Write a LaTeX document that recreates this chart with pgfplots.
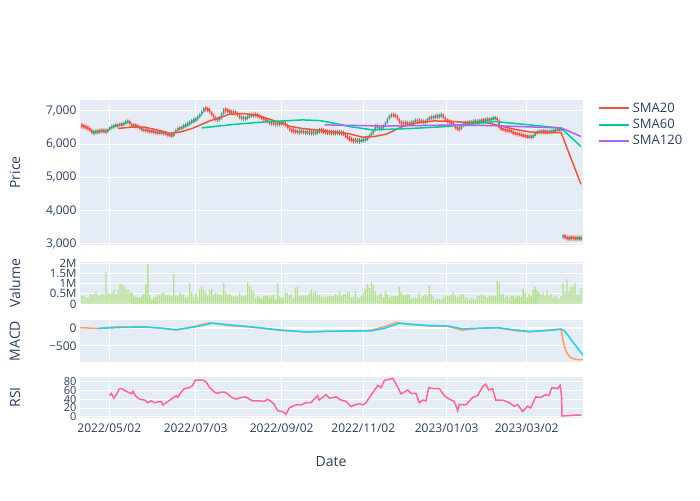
\documentclass[border=0pt]{standalone}
\usepackage{fontspec}
\setmainfont{Open Sans}
\usepackage{pgfplots}
\usepackage{pgfplotstable}
\pgfplotsset{compat=1.18}
\definecolor{bgc}{HTML}{E5ECF6}
\definecolor{txt}{HTML}{2A3F5F}
\definecolor{inc}{HTML}{3D9970}
\definecolor{dec}{HTML}{FF4136}
\definecolor{s20}{HTML}{EF553B}
\definecolor{s60}{HTML}{00CC96}
\definecolor{s120}{HTML}{AB63FA}
\definecolor{volc}{HTML}{B6E28E}
\definecolor{macdc}{HTML}{FFA15A}
\definecolor{sigc}{HTML}{19D3F3}
\definecolor{rsic}{HTML}{FF6692}

\pgfplotstableread{
o c v
6560 6550 0.43
6550 6520 0.40
6520 6500 0.30
6500 6470 0.33
6470 6420 0.50
6420 6340 0.43
6340 6360 0.50
6360 6380 0.63
6380 6370 0.43
6370 6410 0.43
6410 6390 0.52
6390 6400 0.45
6400 6380 1.55
6380 6440 0.55
6440 6500 0.50
6500 6530 0.55
6530 6550 0.70
6550 6570 0.50
6570 6560 0.70
6560 6600 1.00
6600 6580 0.97
6580 6640 0.88
6640 6660 0.72
6660 6690 0.72
6690 6600 0.58
6600 6560 0.55
6560 6570 0.42
6570 6540 0.35
6540 6520 0.33
6520 6470 0.30
6470 6420 0.40
6420 6440 0.50
6440 6410 0.97
6410 6400 2.00
6400 6380 0.43
6380 6390 0.22
6390 6360 0.33
6360 6350 0.35
6350 6340 0.47
6340 6360 0.43
6360 6330 0.52
6330 6340 0.58
6340 6300 0.47
6300 6260 0.43
6260 6280 0.47
6280 6240 0.40
6240 6360 1.50
6360 6420 0.43
6420 6480 0.43
6480 6470 0.55
6470 6520 0.47
6520 6550 0.47
6550 6580 0.33
6580 6620 0.35
6620 6650 1.05
6650 6700 0.58
6700 6720 0.33
6720 6760 0.55
6760 6820 0.33
6820 6900 0.72
6900 6980 0.85
6980 7080 0.75
7080 7050 0.58
7050 7040 0.42
7040 6960 0.68
6960 6880 0.75
6880 6800 0.47
6800 6730 0.55
6730 6760 0.47
6760 6780 0.47
6780 6920 0.45
6920 7050 1.05
7050 7020 0.58
7020 7000 0.47
7000 6970 0.50
6970 6950 0.42
6950 6960 0.38
6960 6940 0.42
6940 6860 0.38
6860 6780 0.55
6780 6800 0.42
6800 6770 0.38
6770 6780 0.45
6780 6830 1.08
6830 6880 0.88
6880 6860 0.72
6860 6890 0.58
6890 6880 0.30
6880 6850 0.38
6850 6820 0.33
6820 6780 0.25
6780 6750 0.42
6750 6720 0.42
6720 6680 0.42
6680 6620 0.33
6620 6640 0.42
6640 6610 0.47
6610 6620 0.22
6620 6600 1.05
6600 6630 0.38
6630 6640 0.30
6640 6645 0.33
6645 6560 0.55
6560 6500 0.55
6500 6420 0.43
6420 6400 0.50
6400 6390 0.30
6390 6380 0.80
6380 6360 0.85
6360 6370 0.38
6370 6390 0.43
6390 6350 0.42
6350 6355 0.43
6355 6370 0.42
6370 6340 0.55
6340 6360 0.72
6360 6340 0.55
6340 6350 0.63
6350 6390 0.47
6390 6420 0.43
6420 6400 0.38
6400 6380 0.38
6380 6370 0.33
6370 6350 0.42
6350 6360 0.42
6360 6340 0.42
6340 6350 0.38
6350 6340 0.50
6340 6360 0.43
6360 6330 0.63
6330 6350 0.42
6350 6300 0.50
6300 6250 0.50
6250 6170 0.60
6170 6150 0.58
6150 6120 0.33
6120 6100 0.35
6100 6120 0.63
6120 6090 0.33
6090 6100 0.30
6100 6110 0.42
6110 6130 0.58
6130 6140 0.72
6140 6200 1.00
6200 6270 0.80
6270 6330 1.10
6330 6400 0.92
6420 6560 0.63
6580 6480 0.42
6480 6490 0.50
6490 6470 0.55
6470 6560 0.33
6560 6650 0.63
6650 6760 0.47
6760 6850 0.33
6850 6880 0.42
6880 6870 0.38
6870 6850 0.40
6850 6750 0.40
6750 6650 0.83
6650 6620 0.58
6620 6640 0.43
6640 6630 0.43
6630 6610 0.50
6610 6640 0.47
6640 6630 0.25
6630 6680 0.30
6680 6710 0.33
6710 6690 0.30
6690 6700 0.55
6700 6680 0.30
6680 6660 0.40
6660 6680 0.50
6680 6740 0.40
6740 6800 0.88
6800 6790 0.50
6790 6820 0.38
6820 6840 0.22
6840 6830 0.25
6830 6860 0.25
6860 6880 0.22
6880 6800 0.33
6800 6710 0.43
6710 6690 0.43
6690 6660 0.42
6660 6630 0.47
6630 6560 0.60
6560 6480 0.42
6480 6470 0.33
6470 6460 0.43
6460 6540 0.50
6540 6620 0.47
6620 6610 0.33
6610 6640 0.30
6640 6630 0.22
6630 6650 0.30
6650 6670 0.25
6670 6680 0.25
6680 6660 0.42
6660 6690 0.42
6690 6710 0.47
6710 6700 0.42
6700 6720 0.43
6720 6740 0.33
6740 6730 0.42
6730 6760 0.38
6760 6780 0.40
6780 6790 0.42
6790 6720 1.13
6720 6480 1.05
6480 6460 0.50
6460 6430 0.50
6430 6420 0.33
6420 6410 0.42
6410 6400 0.33
6400 6370 0.42
6370 6330 0.42
6330 6320 0.33
6320 6300 0.42
6300 6290 0.40
6290 6270 0.33
6270 6250 0.75
6250 6240 0.55
6240 6220 0.33
6220 6230 0.50
6230 6210 0.38
6210 6250 0.72
6250 6340 0.83
6340 6360 0.68
6360 6380 0.58
6380 6370 0.47
6370 6390 0.58
6390 6370 0.42
6370 6380 0.67
6380 6360 0.42
6360 6390 0.50
6390 6395 0.30
6395 6420 0.42
6420 6440 0.38
6440 6430 0.25
6430 6450 0.40
3200 3240 1.05
3240 3180 0.58
3180 3170 1.22
3170 3160 0.63
3160 3180 0.83
3180 3170 0.88
3170 3160 1.05
3160 3170 0.50
3170 3160 0.50
3160 3170 0.80
}\pdata

\pgfplotsset{
  panel/.style={
    scale only axis, width=503pt, xmin=-1, xmax=251,
    axis background/.style={fill=bgc},
    axis line style={draw=none},
    major tick length=0pt,
    xmajorgrids, ymajorgrids,
    grid style={white, line width=1pt},
    xtick={13.68,56.97,100.05,140.93,182.72,222.80},
    xticklabels={},
    tick label style={font=\fontsize{12}{14}\selectfont, text=txt},
    xticklabel style={yshift=-2pt},
    /pgf/number format/assume math mode=true,
    scaled y ticks=false,
    every axis y label/.style={at={(rel axis cs:0,0.5)}, xshift=-65pt, rotate=90, anchor=center,
      font=\fontsize{14}{16}\selectfont, text=txt},
  },
  pover/.style={at={(80pt,255pt)}, anchor=south west, scale only axis,
    width=503pt, height=145pt, xmin=-1, xmax=251, ymin=2960, ymax=7330, hide axis},
}

\begin{document}
\begin{tikzpicture}[x=1pt,y=1pt]
\useasboundingbox (0,0) rectangle (700,500);

% Price panel (frame, grid, ticks)
\begin{axis}[panel, at={(80pt,255pt)}, anchor=south west, height=145pt,
  ymin=2960, ymax=7330, ytick={3000,4000,5000,6000,7000},
  yticklabel style={/pgf/number format/.cd, 1000 sep={,}},
  ylabel={Price}]
\addplot[draw=none, forget plot] coordinates {(0,5000)};
\end{axis}

% candle wicks
\begin{axis}[pover, ybar stacked, bar width=0.6pt]
\addplot[draw=none, fill=none] table[x expr=\coordindex,
  y expr={0.5*(\thisrow{o}+\thisrow{c})-max(0.5*abs(\thisrow{c}-\thisrow{o}),40)-45}] {\pdata};
\addplot[draw=none, fill=inc] table[x expr=\coordindex,
  y expr={\thisrow{c}>=\thisrow{o} ? 2*max(0.5*abs(\thisrow{c}-\thisrow{o}),40)+90 : 0}] {\pdata};
\addplot[draw=none, fill=dec] table[x expr=\coordindex,
  y expr={\thisrow{c}<\thisrow{o} ? 2*max(0.5*abs(\thisrow{c}-\thisrow{o}),40)+90 : 0}] {\pdata};
\end{axis}

% candle bodies
\begin{axis}[pover, ybar stacked, bar width=1.5pt]
\addplot[draw=none, fill=none] table[x expr=\coordindex,
  y expr={0.5*(\thisrow{o}+\thisrow{c})-max(0.5*abs(\thisrow{c}-\thisrow{o}),40)}] {\pdata};
\addplot[draw=none, fill=inc] table[x expr=\coordindex,
  y expr={\thisrow{c}>=\thisrow{o} ? 2*max(0.5*abs(\thisrow{c}-\thisrow{o}),40) : 0}] {\pdata};
\addplot[draw=none, fill=dec] table[x expr=\coordindex,
  y expr={\thisrow{c}<\thisrow{o} ? 2*max(0.5*abs(\thisrow{c}-\thisrow{o}),40) : 0}] {\pdata};
\end{axis}

% SMAs + legend
\begin{axis}[pover,
  legend style={at={(1.03,0.99)}, anchor=north west, draw=none, fill=none,
    font=\fontsize{13}{15}\selectfont, text=txt, row sep=3.5pt, inner sep=0pt,
    nodes={inner ysep=1pt, inner xsep=2.5pt}},
  legend cell align=left,
  legend image code/.code={\draw[#1, line width=2pt] (0pt,0pt) -- (30pt,0pt);},
]
\addplot[s20, line width=1.5pt] coordinates {
(18,6470)(24,6510)(31.5,6510)(38,6420)(44,6330)(49,6360)(55.5,6480)(64,6700)
(74,6900)(81.5,6920)(89,6850)(96.5,6700)(104,6540)(110.5,6470)(119,6420)
(125.5,6370)(134,6310)(140.5,6210)(146.5,6230)(152.5,6300)(160.5,6530)
(169,6650)(176.5,6700)(186.5,6680)(194,6650)(201.5,6660)(209,6560)
(216.5,6450)(224,6370)(231.5,6340)(240,6350)(250,4790)};
\addlegendentry{SMA20}
\addplot[s60, line width=1.5pt] coordinates {
(60,6490)(77,6600)(94,6680)(110.5,6730)(119,6710)(125.5,6640)(134,6530)
(145.5,6430)(164.5,6470)(182.5,6530)(196.5,6620)(207,6680)(222.5,6590)
(240,6480)(250,5930)};
\addlegendentry{SMA60}
\addplot[s120, line width=1.5pt] coordinates {
(121.5,6580)(139,6560)(152.5,6545)(169,6560)(185.5,6575)(204,6560)
(224,6520)(240,6490)(250,6230)};
\addlegendentry{SMA120}
\end{axis}

% Volume panel
\begin{axis}[panel, at={(80pt,196pt)}, anchor=south west, height=42pt,
  ymin=0, ymax=2.08, ytick={0,0.5,1,1.5,2},
  yticklabels={0,0.5M,1M,1.5M,2M},
  yticklabel style={font=\fontsize{11.5}{13}\selectfont},
  ylabel={Valume}]
\addplot[ybar, bar width=1.3pt, bar shift=0pt, fill=volc, draw=none]
  table[x expr=\coordindex, y=v] {\pdata};
\end{axis}

% MACD panel
\begin{axis}[panel, at={(80pt,138pt)}, anchor=south west, height=42pt,
  ymin=-962, ymax=240, ytick={-500,0}, yticklabels={−500,0},
  extra y ticks={0}, extra y tick labels={},
  extra y tick style={grid style={white, line width=2pt}},
  ylabel={MACD}]
\addplot[macdc, line width=1.5pt] coordinates {
(-1,20)(8,0)(16.5,40)(29,50)(39,10)(47,-50)(56.5,60)(63.5,160)(69,120)
(74,80)(84,40)(100,-60)(112.5,-105)(124,-80)(141,-70)(145,-50)(151.5,50)
(157.5,170)(164,110)(174,70)(183,60)(190.5,-50)(199,0)(208,20)(216.5,-60)
(224,-100)(231.5,-60)(238.5,-20)(240,-15)(241,-350)(242,-580)(243,-710)
(244,-790)(245,-840)(246,-865)(247,-880)(248,-890)(249,-895)(251,-895)};
\addplot[sigc, line width=1.5pt] coordinates {
(8,0)(19,25)(31.5,40)(41.5,0)(47,-40)(56.5,40)(65.5,150)(74,100)(84,50)
(100,-50)(112.5,-100)(129,-80)(145,-70)(151.5,0)(159,145)(174,80)(183,70)
(190.5,-10)(208,20)(216.5,-40)(224,-90)(231.5,-70)(239.5,-30)(241,-45)
(242,-90)(243,-160)(244,-240)(245,-320)(246,-400)(247,-470)(248,-540)
(249,-620)(250,-700)(251,-770)};
\end{axis}

% RSI panel
\begin{axis}[panel, at={(80pt,82pt)}, anchor=south west, height=41pt,
  ymin=-2.5, ymax=90, ytick={0,20,40,60,80},
  yticklabel style={font=\fontsize{11}{12}\selectfont},
  xticklabels={2022/05/02,2022/07/03,2022/09/02,2022/11/02,2023/01/03,2023/03/02},
  ylabel={RSI}]
\addplot[rsic, line width=1.5pt] coordinates {
(13.8,48)(14.7,53)(16,42)(17.2,50)(18.8,64)(19.7,64)(21.3,60)(23,56)(24.7,52)
(25.5,58)(26.7,48)(28.8,40)(31.3,38)(33,32)(34.7,36)(36.3,32)(39.7,35)(40.5,27)
(42.2,32)(44.7,40)(47.2,48)(48,44)(49.7,56)(51.3,64)(53.8,66)(55.5,71)(56.7,83)
(60.5,83)(62.2,79)(63.8,67)(66.3,56)(68,53)(69.7,56)(71.3,56)(73,52)(74.7,45)
(77.2,40)(79.7,44)(82.2,45)(83.8,40)(85.5,36)(88.8,36)(91.3,35)(93,40)(94.7,35)
(96.3,28)(98,14)(100.5,12)(102.2,6)(103.8,20)(105.5,24)(108,28)(109.7,27)
(112.2,32)(114.7,32)(116.3,40)(118,48)(118.8,38)(122.2,50)(124,42)(127.3,45)
(129.8,38)(132.3,35)(134.8,23)(136.5,27)(139,30)(140.7,27)(142.3,32)(144,44)
(146.5,60)(148.2,71)(149.8,66)(151.5,82)(154,85)(155.7,87)(157.3,75)(159.8,52)
(161.5,56)(163.2,61)(164.8,53)(167.3,53)(169,32)(170.7,38)(172.3,36)(173.7,66)
(175.7,64)(179,64)(181.5,48)(184,40)(186.5,35)(188.2,14)(189,28)(192.3,27)
(195.7,44)(198.2,48)(200.7,68)(202.3,74)(203.7,61)(205.7,64)(207.3,38)(210.7,38)
(214,32)(216.5,24)(218.2,28)(220.7,12)(223.2,24)(224.8,20)(227.3,45)(229.8,44)
(232.3,50)(234,48)(235.3,66)(238.2,64)(239.5,71)(240.2,50)(240.5,2)(244,3)
(247.3,4)(250,4)};
\end{axis}

\node[font=\fontsize{14}{16}\selectfont, text=txt] at (331,38) {Date};
\end{tikzpicture}
\end{document}
